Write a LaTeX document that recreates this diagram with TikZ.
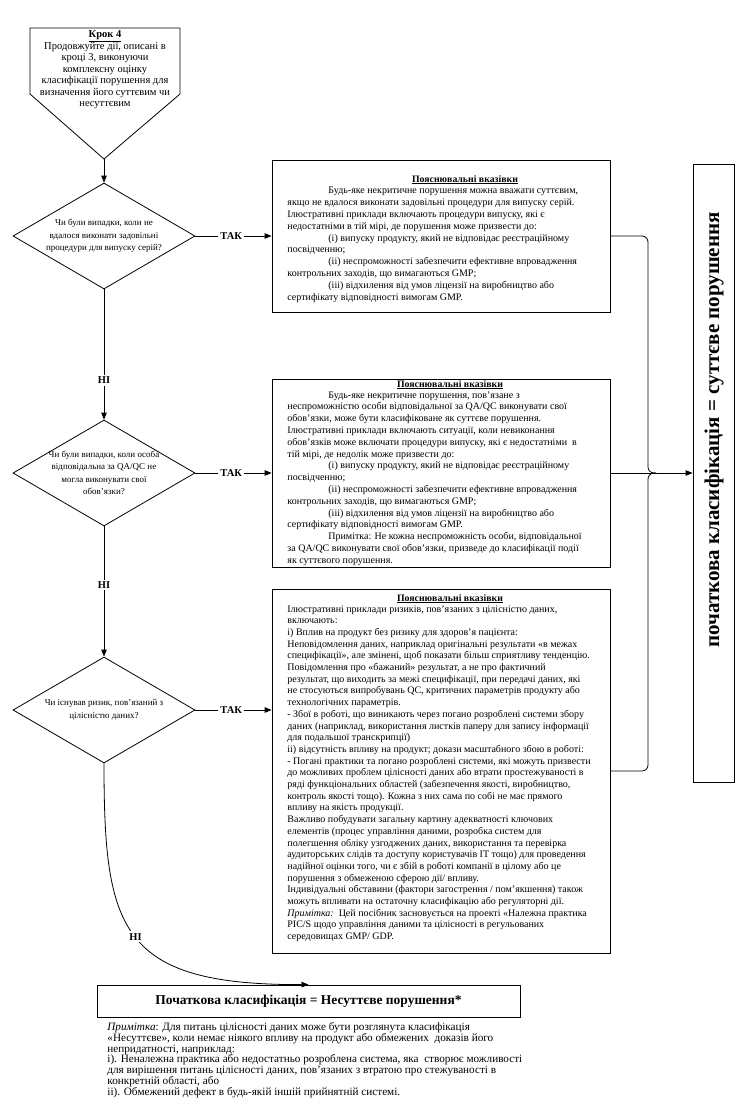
\documentclass[tikz,border=0pt]{standalone}
\usepackage{fontspec}
\setmainfont{Liberation Serif}
\usetikzlibrary{arrows.meta,shapes.geometric}
\begin{document}
\begin{tikzpicture}[x=1pt,y=-1pt,
  line width=0.8pt,
  arr/.style={-{Triangle[length=7pt,width=5.5pt]}},
  lbl/.style={fill=white,inner sep=2pt,font=\bfseries\fontsize{10.5}{12}\selectfont},
  dia/.style={draw,diamond,inner sep=0pt,minimum width=182pt,minimum height=106pt},
  diatext/.style={align=center,inner sep=0pt,font=\fontsize{9}{12.5}\selectfont},
  infobox/.style={draw,rectangle,inner sep=0pt},
  boxtext/.style={align=left,anchor=north west,inner sep=0pt,font=\fontsize{10}{11.8}\selectfont},
  boxtitle/.style={anchor=base,inner sep=0pt,font=\bfseries\fontsize{9.8}{11.8}\selectfont},
]
\useasboundingbox (0,0) rectangle (744,1116);

% Step 4 pentagon
\draw (30,28) -- (180,28) -- (180,94) -- (104,159) -- (30,94) -- cycle;
\coordinate (p4tip) at (104,159);
\node[align=center,inner sep=0pt,font=\fontsize{10.5}{11.5}\selectfont] (p4) at (105,70)
 {\textbf{\underline{Крок 4}}\\Продовжуйте дії, описані в\\кроці 3, виконуючи\\комплексну оцінку\\класифікації порушення для\\визначення його суттєвим чи\\несуттєвим};

% decisions
\node[dia] (d1) at (104,236) {};
\node[diatext] (d1t) at (104,236) {Чи були випадки, коли не\\вдалося виконати задовільні\\процедури для випуску серій?};
\node[dia] (d2) at (104,473) {};
\node[diatext] (d2t) at (104,473) {Чи були випадки, коли особа\\відповідальна за QA/QC не\\могла виконувати свої\\обов'язки?};
\node[dia] (d3) at (104,710) {};
\node[diatext] (d3t) at (104,710) {Чи існував ризик, пов'язаний з\\цілісністю даних?};

% guidance boxes
\node[infobox,minimum width=338pt,minimum height=152pt] (b1) at (441,236) {};
\node[boxtitle] (b1h) at (465,182) {\underline{Пояснювальні вказівки}};
\node[boxtext] (b1t) at (287,187) {\hspace*{41pt}Будь-яке некритичне порушення можна вважати суттєвим,\\
якщо не вдалося виконати задовільні процедури для випуску серій.\\
Ілюстративні приклади включають процедури випуску, які є\\
недостатніми в тій мірі, де порушення може призвести до:\\
\hspace*{41pt}(i) випуску продукту, який не відповідає реєстраційному\\
посвідченню;\\
\hspace*{41pt}(ii) неспроможності забезпечити ефективне впровадження\\
контрольних заходів, що вимагаються GMP;\\
\hspace*{41pt}(iii) відхилення від умов ліцензії на виробництво або\\
сертифікату відповідності вимогам GMP.};

\node[infobox,minimum width=338pt,minimum height=188pt] (b2) at (441,473) {};
\node[boxtitle] (b2h) at (450,387) {\underline{Пояснювальні вказівки}};
\node[boxtext] (b2t) at (287,391) {\hspace*{41pt}Будь-яке некритичне порушення, пов'язане з\\
неспроможністю особи відповідальної за QA/QC виконувати свої\\
обов'язки, може бути класифіковане як суттєве порушення.\\
Ілюстративні приклади включають ситуації, коли невиконання\\
обов'язків може включати процедури випуску, які є недостатніми\ \ в\\
тій мірі, де недолік може призвести до:\\
\hspace*{41pt}(i) випуску продукту, який не відповідає реєстраційному\\
посвідченню;\\
\hspace*{41pt}(ii) неспроможності забезпечити ефективне впровадження\\
контрольних заходів, що вимагаються GMP;\\
\hspace*{41pt}(iii) відхилення від умов ліцензії на виробництво або\\
сертифікату відповідності вимогам GMP.\\
\hspace*{41pt}Примітка: Не кожна неспроможність особи, відповідальної\\
за QA/QC виконувати свої обов'язки, призведе до класифікації події\\
як суттєвого порушення.};

\node[infobox,minimum width=338pt,minimum height=364pt] (b3) at (441,771) {};
\node[boxtitle] (b3h) at (450,601) {\underline{Пояснювальні вказівки}};
\node[boxtext,font=\fontsize{10}{11.7}\selectfont] (b3t) at (287,605) {Ілюстративні приклади ризиків, пов'язаних з цілісністю даних,\\
включають:\\
i) Вплив на продукт без ризику для здоров'я пацієнта:\\
Неповідомлення даних, наприклад оригінальні результати «в межах\\
специфікації», але змінені, щоб показати більш сприятливу тенденцію.\\
Повідомлення про «бажаний» результат, а не про фактичний\\
результат, що виходить за межі специфікації, при передачі даних, які\\
не стосуються випробувань QC, критичних параметрів продукту або\\
технологічних параметрів.\\
- Збої в роботі, що виникають через погано розроблені системи збору\\
даних (наприклад, використання листків паперу для запису інформації\\
для подальшої транскрипції)\\
ii) відсутність впливу на продукт; докази масштабного збою в роботі:\\
- Погані практики та погано розроблені системи, які можуть призвести\\
до можливих проблем цілісності даних або втрати простежуваності в\\
ряді функціональних областей (забезпечення якості, виробництво,\\
контроль якості тощо). Кожна з них сама по собі не має прямого\\
впливу на якість продукції.\\
Важливо побудувати загальну картину адекватності ключових\\
елементів (процес управління даними, розробка систем для\\
полегшення обліку узгоджених даних, використання та перевірка\\
аудиторських слідів та доступу користувачів IT тощо) для проведення\\
надійної оцінки того, чи є збій в роботі компанії в цілому або це\\
порушення з обмеженою сферою дії/ впливу.\\
Індивідуальні обставини (фактори загострення / пом'якшення) також\\
можуть впливати на остаточну класифікацію або регуляторні дії.\\
\textit{Примітка:}\ \ Цей посібник засновується на проекті «Належна практика\\
PIC/S щодо управління даними та цілісності в регульованих\\
середовищах GMP/ GDP.};

% major outcome box
\node[infobox,minimum width=41pt,minimum height=618pt] (tall) at (713.5,473) {};
\node[rotate=90,inner sep=0pt,font=\bfseries\fontsize{21}{24}\selectfont] (tallt) at (714,430) {початкова класифікація = суттєве порушення};

% minor outcome box
\node[infobox,minimum width=423pt,minimum height=32pt] (bb) at (308.5,1001) {};
\node[inner sep=0pt,font=\bfseries\fontsize{13.5}{16}\selectfont] (bbt) at (308.5,1001) {Початкова класифікація = Несуттєве порушення*};

% note
\node[anchor=north west,align=left,inner sep=0pt,font=\fontsize{11.2}{10.8}\selectfont] (note) at (107,1022)
 {\textit{Примітка}: Для питань цілісності даних може бути розглянута класифікація\\
«Несуттєве», коли немає ніякого впливу на продукт або обмежених\ \ доказів його\\
непридатності, наприклад:\\
i). Неналежна практика або недостатньо розроблена система, яка\ \ створює можливості\\
для вирішення питань цілісності даних, пов'язаних з втратою про стежуваності в\\
конкретній області, або\\
ii). Обмежений дефект в будь-якій іншій прийнятній системі.};

% connectors
\draw[arr] (p4tip) -- (d1.north);
\draw[arr] (d1.east) -- node[lbl,pos=0.47] {ТАК} (b1.west);
\draw[arr] (d2.east) -- node[lbl,pos=0.47] {ТАК} (b2.west);
\draw[arr] (d3.east) -- node[lbl,pos=0.47] {ТАК} (d3.east -| b3.west);
\draw[arr] (d1.south) -- node[lbl,pos=0.7] {НІ} (d2.north);
\draw[arr] (d2.south) -- node[lbl,pos=0.45] {НІ} (d3.north);
\draw[arr] (d3.south) .. controls (104,930) and (120,985) .. node[lbl,pos=0.5] {НІ} (bb.north);

\coordinate (brk) at (648,473);
\coordinate (jn) at (656,473);
\draw[rounded corners=6pt] (b1.east) -- (b1.east -| brk) -- (brk) -- (jn);
\draw[rounded corners=6pt] (b3.east) -- (b3.east -| brk) -- (brk) -- (jn);
\draw[arr] (b2.east) -- (tall.west);
\end{tikzpicture}
\end{document}
